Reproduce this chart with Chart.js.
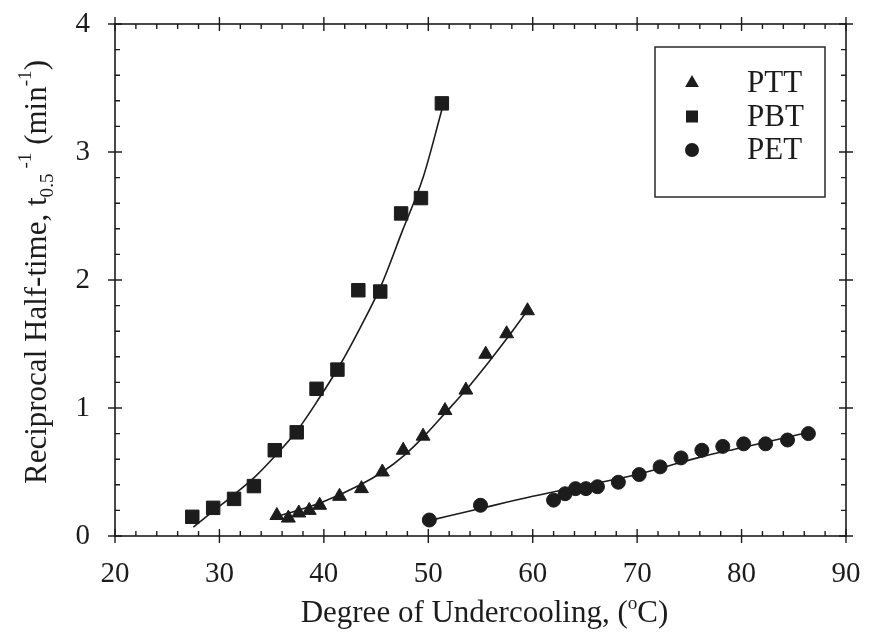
<!DOCTYPE html>
<html>
<head>
<meta charset="utf-8">
<script src="https://cdn.jsdelivr.net/npm/chart.js@4.4.1/dist/chart.umd.min.js"></script>
<style>
    html, body { margin: 0; padding: 0; background: #fff; }
</style>
</head>
<body>
<canvas id="chart" width="870" height="639"></canvas>
<script>
    // measured points
    const pttX = [35.5, 36.6, 37.6, 38.6, 39.6, 41.5, 43.6, 45.6, 47.6, 49.5, 51.6, 53.6, 55.5, 57.5, 59.5];
    const pttY = [0.16, 0.14, 0.18, 0.20, 0.24, 0.31, 0.37, 0.50, 0.67, 0.78, 0.98, 1.14, 1.42, 1.58, 1.76];
    const pbtX = [27.4, 29.4, 31.4, 33.3, 35.3, 37.4, 39.3, 41.3, 43.3, 45.4, 47.4, 49.3, 51.3];
    const pbtY = [0.15, 0.22, 0.29, 0.39, 0.67, 0.81, 1.15, 1.30, 1.92, 1.91, 2.52, 2.64, 3.38];
    const petX = [50.1, 55.0, 62.0, 63.1, 64.1, 65.1, 66.2, 68.2, 70.2, 72.2, 74.2, 76.2, 78.2, 80.2, 82.3, 84.4, 86.4];
    const petY = [0.125, 0.24, 0.28, 0.33, 0.37, 0.37, 0.385, 0.42, 0.48, 0.54, 0.61, 0.67, 0.70, 0.72, 0.72, 0.75, 0.80];

    // fitted curves
    const pttFitX = [35.8, 37.1, 40.0, 43.5, 45.6, 47.7, 49.6, 51.5, 53.6, 55.7, 57.6, 59.4];
    const pttFitY = [0.16, 0.19, 0.27, 0.40, 0.50, 0.63, 0.78, 0.95, 1.14, 1.35, 1.55, 1.75];
    const pbtFitX = [27.5, 29.5, 31.5, 33.5, 35.5, 37.5, 39.5, 41.5, 43.5, 45.5, 47.5, 49.5, 51.3];
    const pbtFitY = [0.07, 0.20, 0.33, 0.47, 0.64, 0.83, 1.07, 1.33, 1.63, 1.96, 2.38, 2.80, 3.33];
    const petFitX = [50.1, 55.0, 60.0, 65.0, 70.0, 72.2, 76.2, 80.0, 86.4];
    const petFitY = [0.12, 0.215, 0.31, 0.395, 0.48, 0.53, 0.62, 0.69, 0.81];

    // axes
    const xTicks = [20, 30, 40, 50, 60, 70, 80, 90];
    const yTicks = [0, 1, 2, 3, 4];
    const seriesNames = ['PTT', 'PBT', 'PET'];

    const ink = '#1c1c1c';
    const serif = '"Liberation Serif", "DejaVu Serif", serif';

    const toPoints = (xs, ys) => xs.map((x, i) => ({ x: x, y: ys[i] }));

    function markerSet(label, xs, ys, style, radius) {
        return {
            label: label,
            data: toPoints(xs, ys),
            showLine: false,
            pointStyle: style,
            pointRadius: radius,
            pointBackgroundColor: ink,
            pointBorderColor: ink,
            pointBorderWidth: 1,
            order: 0
        };
    }

    function curveSet(xs, ys) {
        return {
            data: toPoints(xs, ys),
            showLine: true,
            pointRadius: 0,
            borderColor: ink,
            borderWidth: 1.6,
            cubicInterpolationMode: 'monotone',
            fill: false,
            order: 1
        };
    }

    // draw text runs (normal / sub / sup) centred on (0,0) of current transform
    function drawRuns(ctx, runs, size) {
        let total = 0;
        const sized = runs.map(r => {
            const s = size * (r.scale || 1);
            ctx.font = s + 'px ' + serif;
            const w = ctx.measureText(r.t).width;
            total += w;
            return { t: r.t, s: s, w: w, dy: (r.dy || 0) * size };
        });
        let x = -total / 2;
        sized.forEach(r => {
            ctx.font = r.s + 'px ' + serif;
            ctx.fillText(r.t, x, r.dy);
            x += r.w;
        });
    }

    function drawMarker(ctx, style, x, y, r) {
        ctx.beginPath();
        if (style === 'triangle') {
            ctx.moveTo(x, y - r);
            ctx.lineTo(x + r * 0.866, y + r * 0.5);
            ctx.lineTo(x - r * 0.866, y + r * 0.5);
            ctx.closePath();
        } else if (style === 'rect') {
            const h = r * Math.SQRT1_2;
            ctx.rect(x - h, y - h, 2 * h, 2 * h);
        } else {
            ctx.arc(x, y, r, 0, Math.PI * 2);
        }
        ctx.fill();
    }

    const framePlugin = {
        id: 'frame',
        afterDraw(chart) {
            const { ctx, chartArea: a, scales: { x, y } } = chart;
            ctx.save();
            ctx.strokeStyle = ink;
            ctx.fillStyle = ink;
            ctx.lineWidth = 1.6;
            ctx.strokeRect(a.left, a.top, a.right - a.left, a.bottom - a.top);

            ctx.lineWidth = 1.4;
            ctx.beginPath();
            // x ticks, bottom and top
            for (let v = xTicks[0]; v <= xTicks[xTicks.length - 1]; v += 2) {
                const px = x.getPixelForValue(v);
                const major = xTicks.includes(v);
                const out = major ? 7 : 0;
                const inn = major ? 7 : 5;
                ctx.moveTo(px, a.bottom + out); ctx.lineTo(px, a.bottom - inn);
                ctx.moveTo(px, a.top - out); ctx.lineTo(px, a.top + inn);
            }
            // y ticks, left and right
            for (let k = 0; k <= 20; k++) {
                const v = k * 0.2;
                const py = y.getPixelForValue(v);
                const major = k % 5 === 0;
                const out = major ? 7 : 0;
                const inn = major ? 7 : 5;
                ctx.moveTo(a.left - out, py); ctx.lineTo(a.left + inn, py);
                ctx.moveTo(a.right + out, py); ctx.lineTo(a.right - inn, py);
            }
            ctx.stroke();

            // axis titles
            ctx.textBaseline = 'alphabetic';
            ctx.save();
            ctx.translate((a.left + a.right) / 2 + 4, 622);
            drawRuns(ctx, [
                { t: 'Degree of Undercooling, (' },
                { t: 'o', scale: 0.62, dy: -0.42 },
                { t: 'C)' }
            ], 31);
            ctx.restore();

            ctx.save();
            ctx.translate(46, 272);
            ctx.rotate(-Math.PI / 2);
            drawRuns(ctx, [
                { t: 'Reciprocal Half-time, t' },
                { t: '0.5', scale: 0.62, dy: 0.22 },
                { t: ' -1', scale: 0.62, dy: -0.5 },
                { t: ' (min' },
                { t: '-1', scale: 0.62, dy: -0.5 },
                { t: ')' }
            ], 31);
            ctx.restore();

            // legend box
            const bx = a.right - 191, by = a.top + 23, bw = 170, bh = 150;
            ctx.lineWidth = 1.4;
            ctx.strokeRect(bx, by, bw, bh);
            const styles = ['triangle', 'rect', 'circle'];
            const radii = [8, 8.5, 7];
            ctx.font = '31px ' + serif;
            ctx.textBaseline = 'middle';
            ctx.textAlign = 'left';
            seriesNames.forEach((name, i) => {
                const ry = by + 36 + i * 33.5;
                drawMarker(ctx, styles[i], bx + 37, ry, radii[i]);
                ctx.fillText(name, bx + 92, ry + 1);
            });
            ctx.restore();
        }
    };

    function fixPad(s) {
        s.paddingTop = 0;
        s.paddingBottom = 0;
        s.paddingLeft = 0;
        s.paddingRight = 0;
    }

    new Chart(document.getElementById('chart'), {
        type: 'scatter',
        data: {
            datasets: [
                markerSet('PTT', pttX, pttY, 'triangle', 8),
                markerSet('PBT', pbtX, pbtY, 'rect', 9.5),
                markerSet('PET', petX, petY, 'circle', 7),
                curveSet(pttFitX, pttFitY),
                curveSet(pbtFitX, pbtFitY),
                curveSet(petFitX, petFitY)
            ]
        },
        options: {
            responsive: false,
            animation: false,
            devicePixelRatio: 1,
            layout: { padding: { top: 24, right: 24, left: 0, bottom: 0 } },
            plugins: {
                legend: { display: false },
                tooltip: { enabled: false }
            },
            scales: {
                x: {
                    type: 'linear',
                    min: xTicks[0],
                    max: xTicks[xTicks.length - 1],
                    afterFit: s => { s.height = 103; fixPad(s); },
                    afterBuildTicks: s => { s.ticks = xTicks.map(v => ({ value: v })); },
                    grid: { display: false, drawTicks: false },
                    border: { display: false },
                    ticks: {
                        padding: 21,
                        color: ink,
                        font: { family: serif, size: 29 }
                    }
                },
                y: {
                    type: 'linear',
                    min: yTicks[0],
                    max: yTicks[yTicks.length - 1],
                    afterFit: s => { s.width = 115; fixPad(s); },
                    afterBuildTicks: s => { s.ticks = yTicks.map(v => ({ value: v })); },
                    grid: { display: false, drawTicks: false },
                    border: { display: false },
                    ticks: {
                        padding: 25,
                        color: ink,
                        font: { family: serif, size: 29 }
                    }
                }
            }
        },
        plugins: [framePlugin]
    });
</script>
</body>
</html>
